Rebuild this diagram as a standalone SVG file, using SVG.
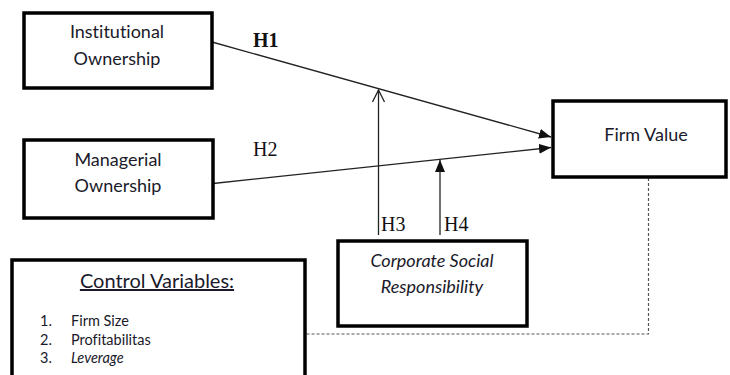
<svg xmlns="http://www.w3.org/2000/svg" width="730" height="375" viewBox="0 0 730 375">
<defs>
<style>
.box{fill:#fff;stroke:#000;stroke-width:3.5}
.lbl{font-family:Lato,"Open Sans","Liberation Sans",sans-serif;font-size:18px;fill:#1a1a2a;text-anchor:middle;font-variant-ligatures:none}
.it{font-style:italic}
.h{font-family:"Liberation Serif","Times New Roman",serif;font-size:20px;fill:#111}
.ln{stroke:#222;stroke-width:1.3;fill:none}
.dash{stroke:#555;stroke-width:1.2;fill:none;stroke-dasharray:3 2}
.small{font-family:Lato,"Open Sans","Liberation Sans",sans-serif;font-size:14.5px;fill:#1a1a2a;font-variant-ligatures:none}
</style>
<marker id="fa" viewBox="0 0 12 10" refX="12" refY="5" markerWidth="12" markerHeight="10" markerUnits="userSpaceOnUse" orient="auto">
<path d="M0,0 L12,5 L0,10 z" fill="#111"/>
</marker>
<marker id="oa" viewBox="0 0 14 14" refX="13" refY="7" markerWidth="14" markerHeight="14" markerUnits="userSpaceOnUse" orient="auto">
<path d="M1,1 L13,7 L1,13" fill="none" stroke="#222" stroke-width="1.3"/>
</marker>
</defs>
<g id="connectors">
<line class="ln" x1="212" y1="42" x2="551" y2="137" marker-end="url(#fa)"/>
<line class="ln" x1="213" y1="183.5" x2="551" y2="147.5" marker-end="url(#fa)"/>
<line class="ln" x1="378.5" y1="235" x2="378.5" y2="90" marker-end="url(#oa)"/>
<line class="ln" x1="440" y1="235" x2="440" y2="160" marker-end="url(#fa)"/>
<polyline class="dash" points="648.5,178 648.5,334 306,334"/>
</g>
<g id="institutional">
<rect class="box" x="24" y="13" width="188" height="75"/>
<text class="lbl" x="117" y="38">Institutional</text>
<text class="lbl" x="117" y="65">Ownership</text>
</g>
<g id="managerial">
<rect class="box" x="24" y="140" width="189" height="78"/>
<text class="lbl" x="118" y="166">Managerial</text>
<text class="lbl" x="118" y="192">Ownership</text>
</g>
<g id="firmvalue">
<rect class="box" x="553" y="101" width="173" height="76"/>
<text class="lbl" x="646" y="141">Firm Value</text>
</g>
<g id="csr">
<rect class="box" x="338" y="241" width="189" height="85"/>
<text class="lbl it" x="432" y="267">Corporate Social</text>
<text class="lbl it" x="432" y="293">Responsibility</text>
</g>
<g id="control">
<rect class="box" x="12" y="260" width="293" height="125"/>
<text class="lbl" x="157" y="288" style="font-size:20px;text-decoration:underline">Control Variables:</text>
<text class="small" x="40" y="326">1.</text>
<text class="small" x="71" y="326">Firm Size</text>
<text class="small" x="40" y="345">2.</text>
<text class="small" x="71" y="345">Profitabilitas</text>
<text class="small" x="40" y="363">3.</text>
<text class="small" x="71" y="363" font-style="italic">Leverage</text>
</g>
<g id="labels">
<text class="h" x="253" y="47" font-weight="bold">H1</text>
<text class="h" x="253" y="156">H2</text>
<text class="h" x="381" y="231">H3</text>
<text class="h" x="444" y="231">H4</text>
</g>
</svg>
